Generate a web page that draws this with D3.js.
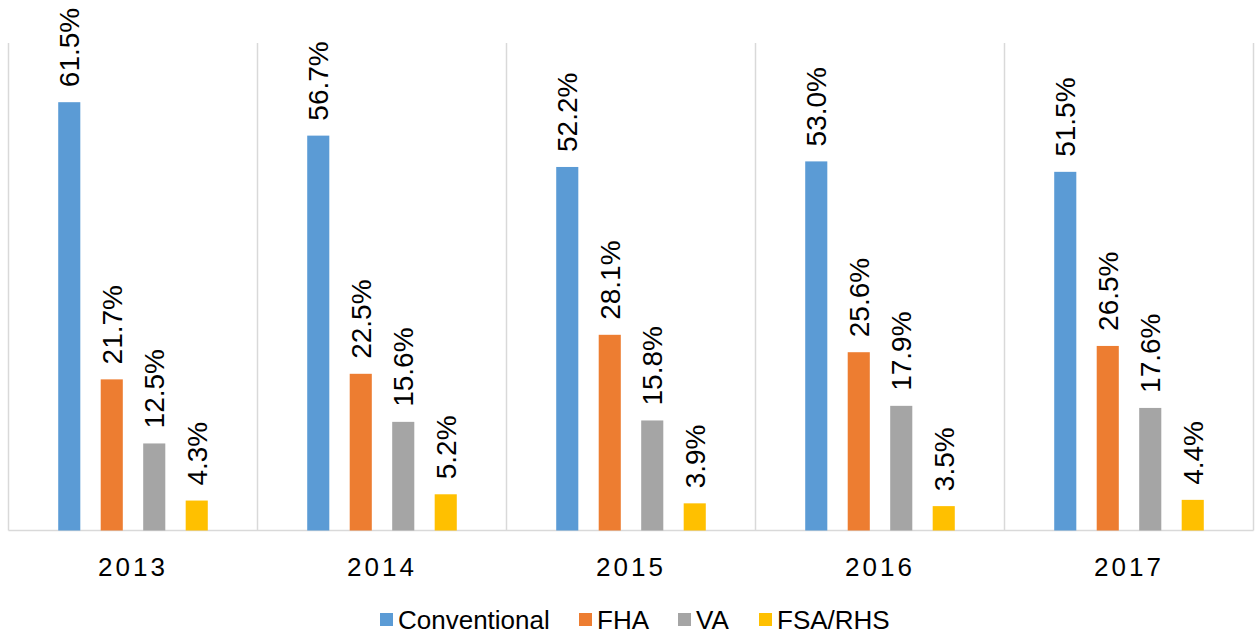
<!DOCTYPE html>
<html>
<head>
<meta charset="utf-8">
<script src="https://cdn.jsdelivr.net/npm/d3@7"></script>
<style>
  body { margin: 0; background: #fff; }
  text { font-family: "Liberation Sans", Arial, sans-serif; fill: #000; }
</style>
</head>
<body>
<script>
var years = ["2013", "2014", "2015", "2016", "2017"];
var series = ["Conventional", "FHA", "VA", "FSA/RHS"];
var colors = ["#5B9BD5", "#ED7D31", "#A5A5A5", "#FFC000"];
var conventional = [61.5, 56.7, 52.2, 53.0, 51.5];
var fha = [21.7, 22.5, 28.1, 25.6, 26.5];
var va = [12.5, 15.6, 15.8, 17.9, 17.6];
var fsa = [4.3, 5.2, 3.9, 3.5, 4.4];
var values = [conventional, fha, va, fsa];

var w = 1256, h = 635;
var plotLeft = 8.5, plotRight = 1253.5, plotTop = 43, plotBottom = 530.5;

var svg = d3.select("body").append("svg")
    .attr("width", w)
    .attr("height", h);

var x0 = d3.scaleBand()
    .domain(years)
    .range([plotLeft, plotRight])
    .padding(0);

var x1 = d3.scaleBand()
    .domain(series)
    .range([0, x0.bandwidth()])
    .paddingInner(0.48)
    .paddingOuter(1.17);

var y = d3.scaleLinear()
    .domain([0, 70])
    .range([plotBottom, plotTop]);

// category separators
var edges = years.map(function (d) { return x0(d); }).concat([plotRight]);
svg.selectAll("line.sep")
    .data(edges)
    .enter()
    .append("line")
    .attr("class", "sep")
    .attr("x1", function (d) { return d; })
    .attr("x2", function (d) { return d; })
    .attr("y1", plotTop)
    .attr("y2", plotBottom)
    .attr("stroke", "#d9d9d9")
    .attr("stroke-width", 1.5);

svg.append("line")
    .attr("x1", plotLeft)
    .attr("x2", plotRight)
    .attr("y1", plotBottom)
    .attr("y2", plotBottom)
    .attr("stroke", "#d9d9d9")
    .attr("stroke-width", 1.5);

var rows = [];
years.forEach(function (yr, i) {
    series.forEach(function (s, j) {
        rows.push({ year: yr, s: s, j: j, v: values[j][i] });
    });
});

svg.selectAll("rect.bar")
    .data(rows)
    .enter()
    .append("rect")
    .attr("class", "bar")
    .attr("x", function (d) { return x0(d.year) + x1(d.s); })
    .attr("y", function (d) { return y(d.v); })
    .attr("width", x1.bandwidth())
    .attr("height", function (d) { return plotBottom - y(d.v); })
    .attr("fill", function (d) { return colors[d.j]; });

svg.selectAll("text.lbl")
    .data(rows)
    .enter()
    .append("text")
    .attr("class", "lbl")
    .attr("transform", function (d) {
        var cx = x0(d.year) + x1(d.s) + x1.bandwidth() / 2;
        return "translate(" + cx + "," + (y(d.v) - 15) + ") rotate(-90)";
    })
    .attr("dy", "0.36em")
    .attr("font-size", 28)
    .text(function (d) { return d.v.toFixed(1) + "%"; });

svg.selectAll("text.year")
    .data(years)
    .enter()
    .append("text")
    .attr("class", "year")
    .attr("x", function (d) { return x0(d) + x0.bandwidth() / 2; })
    .attr("y", 576)
    .attr("text-anchor", "middle")
    .attr("font-size", 26)
    .attr("letter-spacing", 3)
    .text(function (d) { return d; });

// legend
var legX = [380, 579, 678, 759];
var leg = svg.selectAll("g.leg")
    .data(series)
    .enter()
    .append("g")
    .attr("class", "leg")
    .attr("transform", function (d, i) { return "translate(" + legX[i] + ",613)"; });

leg.append("rect")
    .attr("width", 13)
    .attr("height", 13)
    .attr("fill", function (d, i) { return colors[i]; });

leg.append("text")
    .attr("x", 18)
    .attr("y", 16)
    .attr("font-size", 26)
    .text(function (d) { return d; });
</script>
</body>
</html>
